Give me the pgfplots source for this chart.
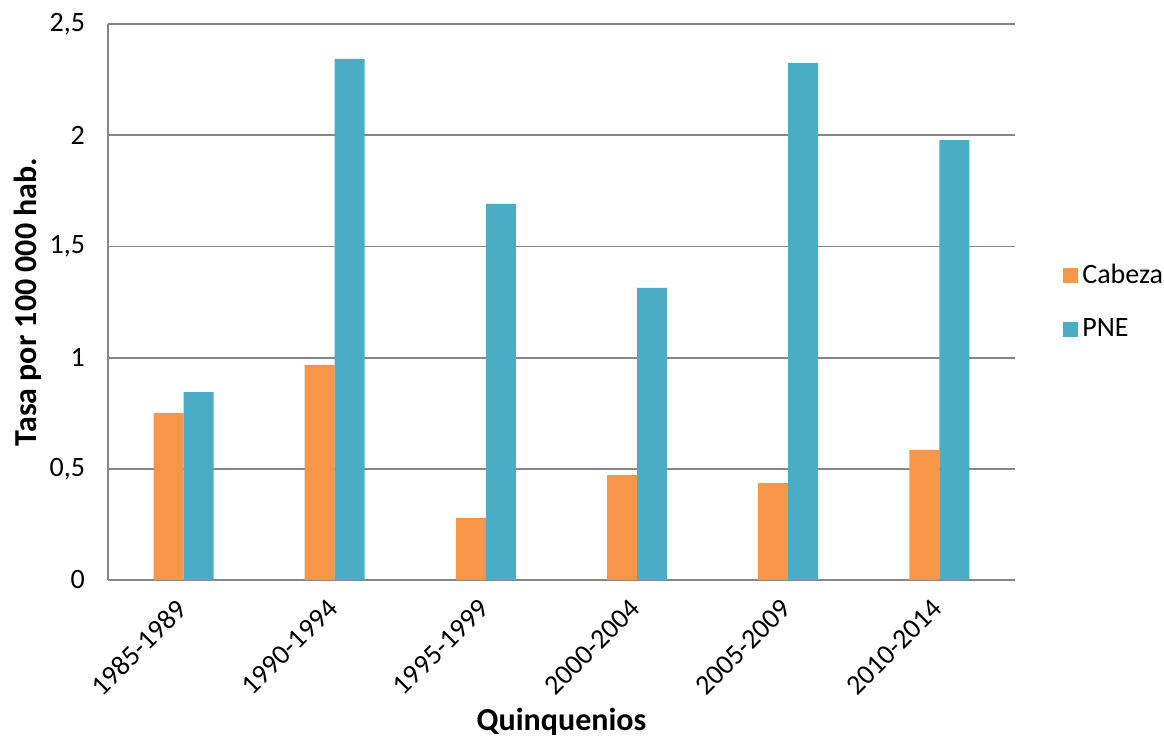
\documentclass[border=0pt]{standalone}
\usepackage{pgfplots}
\pgfplotsset{compat=1.18}
\usepackage{fontspec}
\setmainfont{Carlito}
\definecolor{cab}{HTML}{F79646}
\definecolor{pne}{HTML}{4BACC6}
\definecolor{gridc}{RGB}{134,134,134}
\begin{document}
\begin{tikzpicture}
\path[use as bounding box] (-54pt,-80pt) rectangle (528pt,290pt);
\begin{axis}[
  at={(0,0)}, anchor=south west,
  scale only axis, width=453.5pt, height=278pt,
  ybar=0pt, bar width=15pt,
  xmin=-0.5, xmax=5.5, ymin=0, ymax=2.5,
  xtick={0,1,2,3,4,5},
  xticklabels={1985-1989,1990-1994,1995-1999,2000-2004,2005-2009,2010-2014},
  ytick={0,0.5,1,1.5,2,2.5},
  /pgf/number format/assume math mode=true,
  /pgf/number format/use comma,
  major tick length=0pt,
  axis x line*=bottom, axis y line*=left,
  axis line style={gridc, line width=1pt},
  ymajorgrids, grid style={gridc, line width=0.9pt},
  font=\fontsize{14}{16}\selectfont,
  ticklabel style={font=\fontsize{14}{16}\selectfont, black},
  yticklabel style={xshift=-8pt},
  xticklabel style={rotate=45, anchor=north east, xshift=-5.7pt, yshift=0.3pt},
  xlabel={\textbf{Quinquenios}},
  xlabel style={at={(axis description cs:0.5,0)}, anchor=center, yshift=-71pt, font=\fontsize{16}{18}\selectfont},
  ylabel={\textbf{Tasa por 100 000 hab.}},
  ylabel style={at={(axis description cs:-0.0882,0.5)}, anchor=center, font=\fontsize{16}{18}\selectfont},
  legend style={at={(axis description cs:1,0.5)}, anchor=west, xshift=24pt, draw=none, fill=none,
    font=\fontsize{14}{16}\selectfont, row sep=12pt, inner sep=0pt},
  legend cell align=left,
  legend image code/.code={\fill[#1] (0pt,-3.75pt) rectangle (7.5pt,3.75pt);},
  enlarge x limits=false,
]
\addplot[fill=cab, draw=none] coordinates {(0,0.751) (1,0.967) (2,0.279) (3,0.472) (4,0.436) (5,0.585)};
\addplot[fill=pne, draw=none] coordinates {(0,0.845) (1,2.343) (2,1.691) (3,1.313) (4,2.325) (5,1.978)};
\legend{Cabeza,PNE}
\end{axis}
\end{tikzpicture}
\end{document}
